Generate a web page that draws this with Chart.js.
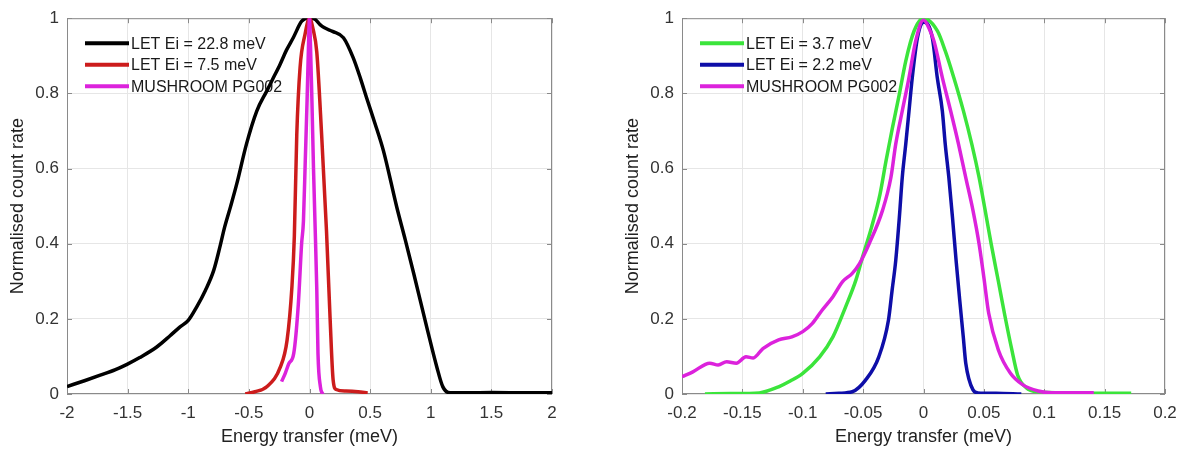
<!DOCTYPE html>
<html>
<head>
<meta charset="utf-8">
<script src="https://cdn.jsdelivr.net/npm/chart.js@4.4.0/dist/chart.umd.min.js"></script>
<style>
  html, body { margin: 0; padding: 0; background: #fff; }
  #wrap { position: relative; width: 1188px; height: 452px; overflow: hidden; }
  .panel { position: absolute; top: 0; width: 594px; height: 452px; }
</style>
</head>
<body>
<div id="wrap">
  <div class="panel" style="left:0"><canvas id="left"></canvas></div>
  <div class="panel" style="left:594px"><canvas id="right"></canvas></div>
</div>
<script>
// left panel: LET Ei = 22.8 meV
const let228X = [-2, -1.85, -1.726, -1.6, -1.505, -1.4, -1.26, -1.15, -1.07, -1.0, -0.93, -0.86, -0.79, -0.74, -0.7, -0.65, -0.6, -0.52, -0.435, -0.353, -0.3, -0.243, -0.19, -0.134, -0.064, -0.01, 0.04, 0.087, 0.12, 0.19, 0.28, 0.36, 0.42, 0.47, 0.54, 0.61, 0.72, 0.79, 0.86, 0.967, 1.05, 1.1, 1.16, 1.3, 1.5, 1.8, 2.0];
const let228Y = [0.02, 0.036, 0.05, 0.065, 0.079, 0.097, 0.125, 0.155, 0.178, 0.196, 0.232, 0.275, 0.329, 0.39, 0.444, 0.5, 0.559, 0.665, 0.753, 0.806, 0.84, 0.877, 0.915, 0.948, 0.992, 1.0, 0.998, 0.983, 0.975, 0.965, 0.948, 0.895, 0.84, 0.789, 0.72, 0.647, 0.497, 0.41, 0.32, 0.178, 0.072, 0.019, 0.003, 0.003, 0.004, 0.003, 0.003];

// LET Ei = 7.5 meV
const let75X = [-0.53, -0.45, -0.35, -0.24, -0.185, -0.145, -0.125, -0.105, -0.078, -0.037, 0, 0.03, 0.06, 0.1, 0.14, 0.17, 0.195, 0.22, 0.3, 0.4, 0.48];
const let75Y = [0.0, 0.006, 0.02, 0.072, 0.143, 0.285, 0.42, 0.69, 0.868, 0.957, 1.0, 0.97, 0.91, 0.69, 0.435, 0.2, 0.037, 0.012, 0.008, 0.006, 0.003];

// MUSHROOM PG002 (left scale)
const mushLX = [-0.23, -0.2, -0.17, -0.13, -0.092, -0.065, -0.05, -0.035, -0.02, -0.008, 0, 0.008, 0.02, 0.033, 0.045, 0.06, 0.07, 0.09, 0.11];
const mushLY = [0.033, 0.055, 0.081, 0.108, 0.24, 0.4, 0.46, 0.62, 0.78, 0.93, 1.0, 0.93, 0.78, 0.6, 0.46, 0.28, 0.108, 0.019, 0.0];

// right panel: LET Ei = 3.7 meV
const let37X = [-0.181, -0.16, -0.136, -0.12, -0.11, -0.1, -0.086, -0.075, -0.0645, -0.056, -0.05, -0.043, -0.036, -0.031, -0.0257, -0.02, -0.0147, -0.0078, 0, 0.0115, 0.018, 0.025, 0.033, 0.04, 0.046, 0.051, 0.056, 0.062, 0.067, 0.073, 0.078, 0.085, 0.095, 0.12, 0.15, 0.172];
const let37Y = [0, 0.001, 0.003, 0.019, 0.035, 0.055, 0.099, 0.152, 0.232, 0.303, 0.37, 0.444, 0.532, 0.621, 0.709, 0.798, 0.886, 0.966, 1.0, 0.966, 0.913, 0.843, 0.754, 0.665, 0.577, 0.49, 0.4, 0.3, 0.215, 0.12, 0.05, 0.017, 0.006, 0.003, 0.002, 0.002];

// LET Ei = 2.2 meV
const let22X = [-0.081, -0.07, -0.059, -0.048, -0.037, -0.029, -0.026, -0.023, -0.02, -0.0176, -0.0147, -0.012, -0.0093, -0.005, 0, 0.0073, 0.0114, 0.0156, 0.018, 0.021, 0.024, 0.027, 0.03, 0.033, 0.035, 0.041, 0.045, 0.06, 0.081];
const let22Y = [0, 0.002, 0.006, 0.037, 0.099, 0.197, 0.276, 0.355, 0.47, 0.576, 0.665, 0.753, 0.842, 0.948, 0.99, 0.948, 0.842, 0.753, 0.665, 0.576, 0.47, 0.355, 0.25, 0.15, 0.082, 0.011, 0.003, 0.002, 0.0];

// MUSHROOM PG002 (right scale)
const mushRX = [-0.2, -0.191, -0.177, -0.17, -0.163, -0.155, -0.147, -0.141, -0.133, -0.12, -0.109, -0.1, -0.092, -0.084, -0.075, -0.067, -0.059, -0.053, -0.045, -0.034, -0.027, -0.023, -0.0176, -0.012, -0.0065, 0, 0.005, 0.0087, 0.0156, 0.0225, 0.029, 0.035, 0.041, 0.046, 0.05, 0.054, 0.062, 0.072, 0.082, 0.095, 0.106, 0.141];
const mushRY = [0.046, 0.059, 0.082, 0.077, 0.086, 0.082, 0.099, 0.096, 0.121, 0.144, 0.152, 0.166, 0.188, 0.223, 0.259, 0.299, 0.321, 0.347, 0.4, 0.488, 0.576, 0.665, 0.753, 0.842, 0.939, 0.995, 0.97, 0.939, 0.842, 0.753, 0.665, 0.576, 0.488, 0.4, 0.31, 0.215, 0.117, 0.055, 0.025, 0.008, 0.003, 0.003];

const yTitle = 'Normalised count rate';
const xTitle = 'Energy transfer (meV)';

Chart.defaults.font.family = '"Liberation Sans", Arial, sans-serif';

function pts(xs, ys) {
    return xs.map((x, i) => ({ x: x, y: ys[i] }));
}

function line(label, xs, ys, color, order) {
    return {
        label: label,
        data: pts(xs, ys),
        borderColor: color,
        backgroundColor: color,
        borderWidth: 3.5,
        pointRadius: 0,
        showLine: true,
        cubicInterpolationMode: 'monotone',
        order: order
    };
}

// short tick text like matlab: 1, 0.5, -0.2
const tickText = v => String(parseFloat(Number(v).toFixed(3)));

// matlab-ish box, inward ticks and legend, drawn under the curves
const matlabBox = {
    id: 'matlabBox',
    beforeDatasetsDraw(chart) {
        const { ctx, chartArea: a, scales: { x, y } } = chart;
        ctx.save();
        ctx.strokeStyle = '#8a8a8a';
        ctx.lineWidth = 1;
        ctx.beginPath();
        x.ticks.forEach(t => {
            const px = Math.round(x.getPixelForValue(t.value)) + 0.5;
            ctx.moveTo(px, a.bottom); ctx.lineTo(px, a.bottom - 5);
            ctx.moveTo(px, a.top); ctx.lineTo(px, a.top + 5);
        });
        y.ticks.forEach(t => {
            const py = Math.round(y.getPixelForValue(t.value)) + 0.5;
            ctx.moveTo(a.left, py); ctx.lineTo(a.left + 5, py);
            ctx.moveTo(a.right, py); ctx.lineTo(a.right - 5, py);
        });
        ctx.stroke();
        ctx.strokeRect(a.left + 0.5, a.top + 0.5, a.width - 1, a.height - 1);

        ctx.font = '16px "Liberation Sans", Arial, sans-serif';
        ctx.textBaseline = 'middle';
        ctx.textAlign = 'left';
        chart.data.datasets.forEach((ds, i) => {
            const yy = a.top + 25 + i * 21.5;
            const x0 = a.left + 18;
            ctx.strokeStyle = ds.borderColor;
            ctx.lineWidth = 4;
            ctx.beginPath();
            ctx.moveTo(x0, yy);
            ctx.lineTo(x0 + 44, yy);
            ctx.stroke();
            ctx.fillStyle = '#1a1a1a';
            ctx.fillText(ds.label, x0 + 46, yy + 1);
        });
        ctx.restore();
    }
};

function makeChart(id, datasets, xMin, xMax, xStep, padLeft, padRight) {
    return new Chart(document.getElementById(id), {
        type: 'scatter',
        data: { datasets: datasets },
        plugins: [matlabBox],
        options: {
            responsive: true,
            maintainAspectRatio: false,
            animation: false,
            layout: { padding: { left: padLeft, right: padRight, top: 17, bottom: 0 } },
            plugins: { legend: { display: false }, tooltip: { enabled: false } },
            scales: {
                x: {
                    type: 'linear', min: xMin, max: xMax,
                    ticks: { stepSize: xStep, color: '#333', font: { size: 17 }, padding: 9, maxRotation: 0, callback: tickText },
                    grid: { color: '#e6e6e6', drawTicks: false },
                    border: { display: false },
                    title: { display: true, text: xTitle, color: '#222', font: { size: 18 }, padding: { top: 0, bottom: 4 } },
                    afterFit: s => { s.height = 58; }
                },
                y: {
                    type: 'linear', min: 0, max: 1,
                    ticks: { stepSize: 0.2, color: '#333', font: { size: 17 }, padding: 8, callback: tickText },
                    grid: { color: '#e6e6e6', drawTicks: false },
                    border: { display: false },
                    title: { display: true, text: yTitle, color: '#222', font: { size: 18 }, padding: { top: 7, bottom: 0 } },
                    afterFit: s => { s.width = 67; }
                }
            }
        }
    });
}

makeChart('left', [
    line('LET Ei = 22.8 meV', let228X, let228Y, '#000000', 3),
    line('LET Ei = 7.5 meV', let75X, let75Y, '#cc1c1c', 2),
    line('MUSHROOM PG002', mushLX, mushLY, '#dc22dc', 1)
], -2, 2, 0.5, 0, 42);

makeChart('right', [
    line('LET Ei = 3.7 meV', let37X, let37Y, '#3be43b', 3),
    line('LET Ei = 2.2 meV', let22X, let22Y, '#0e0ea8', 2),
    line('MUSHROOM PG002', mushRX, mushRY, '#dc22dc', 1)
], -0.2, 0.2, 0.05, 21, 23);
</script>
</body>
</html>
